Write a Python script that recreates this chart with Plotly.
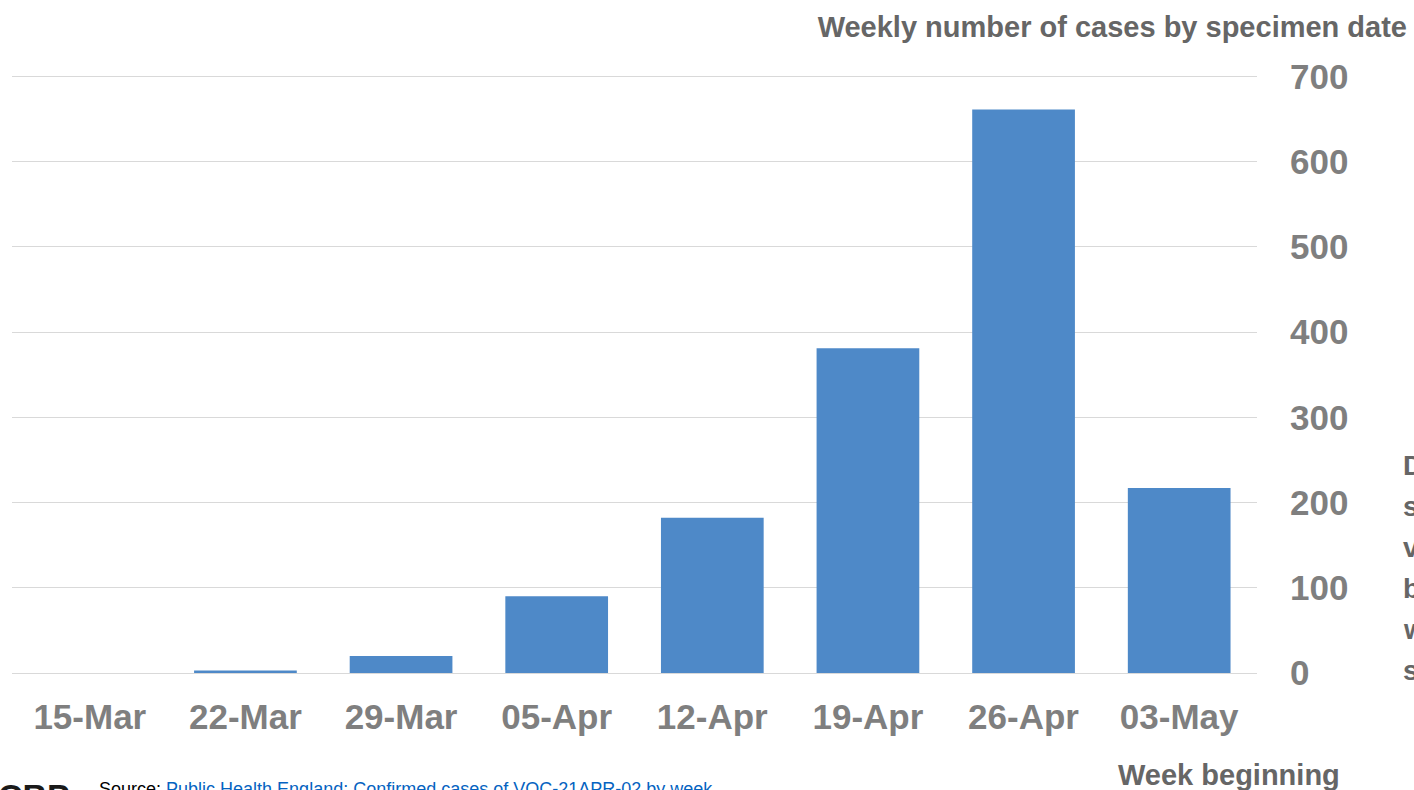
import plotly.graph_objects as go

weeks = ["15-Mar", "22-Mar", "29-Mar", "05-Apr", "12-Apr", "19-Apr", "26-Apr", "03-May"]
cases = [0, 3, 20, 90, 182, 381, 661, 217]
y_ticks = [0, 100, 200, 300, 400, 500, 600, 700]

title_text = "Weekly number of cases by specimen date"
xaxis_text = "Week beginning"
side_letters = ["D", "s", "v", "b", "w", "s"]
source_label = "Source: "
source_link = "Public Health England: Confirmed cases of VOC-21APR-02 by week"
logo_text = "CBP"

W, H = 1414, 790
YMAX = 705
L, R, B = 12, 1257, 673
UNIT = (673 - 76) / 700.0
T = B - UNIT * YMAX
FONT = "Arial, Liberation Sans, sans-serif"
GRAY = "#7f7f7f"
DARK = "#666666"


def px(x):
    return (x - L) / (R - L)


def py(y):
    return (B - y) / (B - T)


fig = go.Figure(
    go.Bar(
        x=weeks,
        y=cases,
        marker=dict(color="#4E89C8", line=dict(width=0)),
        hoverinfo="x+y",
    )
)

annotations = [
    dict(
        x=px(1116), y=py(775), xref="paper", yref="paper",
        text=xaxis_text, showarrow=False,
        xanchor="left", yanchor="middle",
        font=dict(family=FONT, size=29, color=DARK, weight="bold"),
    ),
    dict(
        x=px(97), y=py(777), xref="paper", yref="paper",
        text=source_label + "<span style='color:#0563C1'>" + source_link + "</span>",
        showarrow=False, xanchor="left", yanchor="top",
        font=dict(family=FONT, size=18, color="#000000"),
    ),
    dict(
        x=px(-4), y=py(775), xref="paper", yref="paper",
        text=logo_text, showarrow=False,
        xanchor="left", yanchor="top",
        font=dict(family=FONT, size=34, color="#1a1a1a", weight="bold"),
    ),
]
for i, ch in enumerate(side_letters):
    annotations.append(
        dict(
            x=px(1401), y=py(465 + i * 41), xref="paper", yref="paper",
            text=ch, showarrow=False,
            xanchor="left", yanchor="middle",
            font=dict(family=FONT, size=28, color=DARK, weight="bold"),
        )
    )

fig.update_layout(
    width=W, height=H,
    margin=dict(l=L, r=W - R, t=T, b=H - B, pad=0),
    paper_bgcolor="white", plot_bgcolor="white",
    bargap=0.34,
    showlegend=False,
    title=dict(
        text=title_text,
        x=1407 / W, xref="container", xanchor="right",
        y=1 - 27 / H, yref="container", yanchor="middle",
        font=dict(family=FONT, size=29, color=DARK, weight="bold"),
    ),
    xaxis=dict(
        showgrid=False, showline=False, zeroline=False,
        ticks="", tickfont=dict(family=FONT, size=35, color=GRAY, weight="bold"),
        ticklabelstandoff=20,
    ),
    yaxis=dict(
        side="right", range=[0, YMAX], tickvals=y_ticks,
        showgrid=True, gridcolor="#d9d9d9", gridwidth=1,
        zeroline=True, zerolinecolor="#d9d9d9", zerolinewidth=1,
        showline=False, ticks="",
        tickfont=dict(family=FONT, size=35, color=GRAY, weight="bold"),
        ticklabelstandoff=32,
    ),
    annotations=annotations,
)

fig.write_html(
    "out.html",
    config={"displayModeBar": False},
    post_script="document.body.style.margin='0';document.body.style.overflow='hidden';",
)
